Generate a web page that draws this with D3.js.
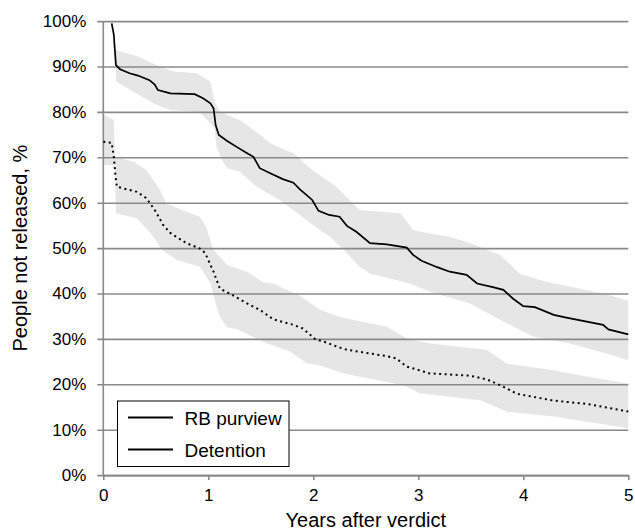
<!DOCTYPE html>
<html><head><meta charset="utf-8">
<script src="https://cdn.jsdelivr.net/npm/d3@7"></script>
<style>body{margin:0;background:#fff}svg{display:block;font-family:"Liberation Sans",Arial,sans-serif}</style>
</head><body>
<script>
// ---- data ----
const seriesNames = ["RB purview", "Detention"];
const yTicks = [0,10,20,30,40,50,60,70,80,90,100];
const xTicks = [0,1,2,3,4,5];
const rbLine = [[0.08,99.5],[0.10,97],[0.12,90.3],[0.16,89.4],[0.25,88.5],[0.33,88],[0.44,87],[0.49,86],[0.52,84.8],[0.64,84.1],[0.87,83.9],[0.95,83],[1.02,81.9],[1.05,80.8],[1.07,77.1],[1.10,74.9],[1.18,73.6],[1.27,72.3],[1.37,70.9],[1.43,70.1],[1.49,67.6],[1.59,66.5],[1.71,65.2],[1.81,64.4],[1.87,63],[1.99,60.6],[2.05,58.2],[2.15,57.3],[2.25,56.9],[2.32,54.9],[2.41,53.6],[2.54,51.1],[2.70,50.8],[2.89,50.1],[2.95,48.5],[3.03,47.2],[3.18,45.8],[3.30,44.8],[3.46,44.1],[3.56,42.2],[3.71,41.4],[3.81,40.8],[3.90,38.9],[4.0,37.2],[4.11,37],[4.29,35.3],[4.41,34.7],[4.76,33.1],[4.81,32.1],[5.0,31.0]];
const detLine = [[0,73.4],[0.08,73.2],[0.10,70.1],[0.12,65],[0.13,63.5],[0.32,62.4],[0.41,61],[0.49,58.4],[0.57,55.1],[0.64,53.3],[0.79,51.1],[0.92,49.9],[0.97,48.9],[1.05,44.8],[1.11,41.1],[1.21,39.9],[1.37,37.8],[1.49,36.4],[1.62,34.3],[1.81,33.1],[1.90,32.3],[2.02,29.9],[2.10,29.4],[2.25,28.1],[2.32,27.6],[2.70,26.2],[2.79,25.7],[2.89,23.9],[3.11,22.4],[3.49,21.9],[3.65,21.1],[3.78,19.8],[3.94,17.9],[4.29,16.4],[4.60,15.7],[5.0,14]];
const rbUpper = [[0.12,93.6],[0.33,92.2],[0.51,90.3],[0.67,88.9],[0.89,88.5],[1.02,86.7],[1.06,82.2],[1.11,80],[1.30,78.2],[1.49,75],[1.59,73.1],[1.81,70.9],[1.97,67.6],[2.22,63.5],[2.44,58.4],[2.83,57.7],[2.95,54],[3.08,53.3],[3.30,52.5],[3.49,51.1],[3.78,48.5],[3.97,44.3],[4.22,42.6],[4.76,40],[5.0,38.4]];
const rbLower = [[0.12,86.7],[0.29,84.4],[0.51,81.5],[0.64,80.4],[0.92,80],[1.06,76.4],[1.08,72],[1.14,69],[1.18,67.6],[1.30,66.8],[1.46,63.5],[1.68,60.6],[1.81,58.4],[2.03,54.5],[2.16,52.5],[2.29,49.6],[2.44,45.9],[2.54,44.4],[2.92,42.2],[3.11,40.4],[3.49,37.8],[3.78,34.2],[4.10,30.5],[4.44,29.0],[4.79,26.8],[5.0,25.3]];
const detUpper = [[0,79.5],[0.10,78.2],[0.11,70.1],[0.29,69],[0.41,67.2],[0.54,62.8],[0.60,59.9],[0.79,58],[0.92,56.9],[0.98,54.7],[1.05,49.6],[1.18,46.3],[1.37,44.8],[1.52,42.5],[1.62,42.2],[1.87,39.5],[2.06,36.5],[2.25,34.8],[2.70,32.7],[2.89,30.1],[3.11,29],[3.65,27.6],[3.84,24.6],[4.29,23.1],[4.60,21.7],[5.0,20.2]];
const detLower = [[0,68.3],[0.11,68.3],[0.12,57.7],[0.32,56.6],[0.45,53.3],[0.56,49.6],[0.70,47.4],[0.92,45.9],[1.02,42.2],[1.08,37],[1.11,34.9],[1.18,32.5],[1.27,32.2],[1.56,29],[1.78,27.2],[1.94,24.6],[2.06,24.2],[2.29,22.4],[2.86,19.8],[3.02,18],[3.59,16.5],[3.84,14],[4.29,12.9],[5.0,10.3]];

// ---- layout ----
const W = 635, H = 531;
const svg = d3.select("body").append("svg").attr("width", W).attr("height", H);
const x = d3.scaleLinear().domain([0,5]).range([103.3, 628.3]);
const y = d3.scaleLinear().domain([0,100]).range([475.1, 21.1]);
const gridCol = "#8a8a8a";

// bands
const poly = d3.line().x(d => x(d[0])).y(d => y(d[1]));
function band(up, lo) {
  return poly(up.concat(lo.slice().reverse())) + "Z";
}
svg.append("path").attr("d", band(rbUpper, rbLower)).attr("fill", "#e6e6e6");
svg.append("path").attr("d", band(detUpper, detLower)).attr("fill", "#e6e6e6");

// gridlines (horizontal) via axis
const yAxis = d3.axisLeft(y).tickValues(yTicks).tickFormat(d => d + "%")
  .tickSizeInner(-(x(5) - x(0)) - 6).tickSizeOuter(0).tickPadding(11);
const gy = svg.append("g").attr("transform", `translate(${x(0) - 6},0)`).call(yAxis);
gy.select(".domain").remove();
gy.selectAll(".tick line").attr("stroke", gridCol).attr("stroke-width", 1.6)
  .attr("x1", 0).attr("x2", x(5) - x(0) + 6);
gy.selectAll(".tick text").attr("font-size", 17).attr("fill", "#000")
  .attr("font-family", "Liberation Sans, Arial, sans-serif").attr("x", -11);

// y axis line
svg.append("line").attr("x1", x(0)).attr("x2", x(0)).attr("y1", y(100)).attr("y2", y(0))
  .attr("stroke", gridCol).attr("stroke-width", 1.6);

// x axis
const xAxis = d3.axisBottom(x).tickValues(xTicks).tickFormat(d3.format("d"))
  .tickSizeInner(5).tickSizeOuter(0).tickPadding(9);
const gx = svg.append("g").attr("transform", `translate(0,${y(0)})`).call(xAxis);
gx.select(".domain").attr("stroke", gridCol).attr("stroke-width", 1.6);
gx.selectAll(".tick line").attr("stroke", gridCol).attr("stroke-width", 1.6);
gx.selectAll(".tick text").attr("font-size", 17).attr("fill", "#000")
  .attr("font-family", "Liberation Sans, Arial, sans-serif");

// lines
const ln = d3.line().x(d => x(d[0])).y(d => y(d[1]));
svg.append("path").attr("d", ln(rbLine)).attr("fill", "none").attr("stroke", "#000").attr("stroke-width", 1.7);
svg.append("path").attr("d", ln(detLine)).attr("fill", "none").attr("stroke", "#000").attr("stroke-width", 2)
  .attr("stroke-dasharray", "2,3.5");

// axis titles
svg.append("text").attr("x", (x(0) + x(5)) / 2).attr("y", 527).attr("text-anchor", "middle")
  .attr("font-size", 20).text("Years after verdict");
svg.append("text").attr("transform", `translate(27,${(y(0) + y(100)) / 2}) rotate(-90)`)
  .attr("text-anchor", "middle").attr("font-size", 20).text("People not released, %");

// legend
const lg = svg.append("g");
lg.append("rect").attr("x", 117.5).attr("y", 401).attr("width", 171.5).attr("height", 65.5)
  .attr("fill", "#fff").attr("stroke", "#000").attr("stroke-width", 1);
seriesNames.forEach((n, i) => {
  const yy = 417.5 + i * 32;
  lg.append("line").attr("x1", 128).attr("x2", 173).attr("y1", yy).attr("y2", yy)
    .attr("stroke", "#000").attr("stroke-width", 2);
  lg.append("text").attr("x", 184.5).attr("y", yy + 7).attr("font-size", 19).text(n);
});
</script>
</body></html>
